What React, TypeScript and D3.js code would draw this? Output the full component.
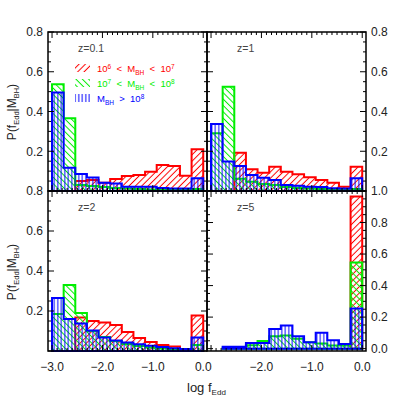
import React from 'react';
import * as d3 from 'd3';

// log f_Edd histogram: 13 equal bins between -3 and 0
const BIN_MIN = -3.0;
const BIN_MAX = 0.0;
const N_BINS = 13;

// z = 0.1  (red: 1e6-1e7, green: 1e7-1e8, blue: >1e8)
const z01Red = [0, 0, 0.05, 0.055, 0.042, 0.06, 0.075, 0.08, 0.097, 0.131, 0.126, 0.077, 0.21];
const z01Green = [0.537, 0.366, 0.03, 0.025, 0.02, 0.015, 0.012, 0.01, 0.008, 0.008, 0.006, 0.005, 0.01];
const z01Blue = [0.495, 0.117, 0.085, 0.068, 0.042, 0.038, 0.022, 0.022, 0.022, 0.015, 0.013, 0.013, 0.064];
// z = 1
const z1Red = [0, 0, 0.193, 0.109, 0.092, 0.122, 0.097, 0.084, 0.069, 0.055, 0.042, 0.022, 0.122];
const z1Green = [0.29, 0.525, 0.062, 0.047, 0.035, 0.03, 0.02, 0.015, 0.012, 0.01, 0.008, 0.005, 0.01];
const z1Blue = [0.337, 0.149, 0.126, 0.08, 0.067, 0.055, 0.03, 0.026, 0.022, 0.02, 0.014, 0.012, 0.064];
// z = 2
const z2Red = [0, 0, 0.167, 0.15, 0.142, 0.13, 0.095, 0.065, 0.045, 0.03, 0.022, 0.01, 0.178];
const z2Green = [0.185, 0.33, 0.19, 0.1, 0.07, 0.05, 0.035, 0.025, 0.018, 0.012, 0.008, 0.005, 0.03];
const z2Blue = [0.265, 0.16, 0.137, 0.103, 0.067, 0.052, 0.043, 0.034, 0.026, 0.02, 0.014, 0.01, 0.067];
// z = 5
const z5Red = [0, 0, 0, 0, 0, 0, 0, 0, 0, 0, 0, 0, 0.965];
const z5Green = [0, 0.005, 0.008, 0.022, 0.048, 0.078, 0.084, 0.062, 0.04, 0.032, 0.02, 0.02, 0.546];
const z5Blue = [0, 0.012, 0.012, 0.035, 0.035, 0.125, 0.146, 0.078, 0.04, 0.1, 0.053, 0.03, 0.255];

const xTickValues = [-3, -2, -1, 0];
const xTickLabels = ['\u22123.0', '\u22122.0', '\u22121.0', '0.0'];

const COLORS = ['#ff0000', '#00ee00', '#0000ff'];
const HATCH = ['hRed', 'hGreen', 'hBlue'];
const FONT = 'Liberation Sans, Arial, sans-serif';

const L = 48, M = 207, R = 366;
const T = 32, MY = 191, B = 351;

const edges = d3.range(N_BINS + 1).map(i => BIN_MIN + (i * (BIN_MAX - BIN_MIN)) / N_BINS);

const panels = [
  { label: 'z=0.1', series: [z01Red, z01Green, z01Blue], x0: L, x1: M, y0: T, y1: MY, yDom: [0, 0.8], yLabels: [0.2, 0.4, 0.6, 0.8], side: 'left', xLabels: [] },
  { label: 'z=1', series: [z1Red, z1Green, z1Blue], x0: M, x1: R, y0: T, y1: MY, yDom: [0, 0.8], yLabels: [0.2, 0.4, 0.6, 0.8], side: 'right', xLabels: [] },
  { label: 'z=2', series: [z2Red, z2Green, z2Blue], x0: L, x1: M, y0: MY, y1: B, yDom: [0, 0.8], yLabels: [0.2, 0.4, 0.6, 0.8], side: 'left', xLabels: [0, 1, 2, 3] },
  { label: 'z=5', series: [z5Red, z5Green, z5Blue], x0: M, x1: R, y0: MY, y1: B, yDom: [-0.015, 1.0], yLabels: [0, 0.2, 0.4, 0.6, 0.8, 1.0], side: 'right', xLabels: [1, 2, 3] },
];

function histPath(vals: number[], x: any, y: any) {
  const idx = vals.map((v, i) => (v > 0 ? i : -1)).filter(i => i >= 0);
  if (!idx.length) return '';
  const first = idx[0], last = idx[idx.length - 1];
  const base = y(0);
  let d = `M${x(edges[first])},${base}`;
  for (let i = first; i <= last; i++) {
    d += `L${x(edges[i])},${y(vals[i])}L${x(edges[i + 1])},${y(vals[i])}`;
  }
  d += `L${x(edges[last + 1])},${base}Z`;
  return d;
}

const Panel = ({ p }: { p: any }) => {
  const x = d3.scaleLinear().domain([-3.08, 0.075]).range([p.x0, p.x1]);
  const y = d3.scaleLinear().domain(p.yDom).range([p.y1, p.y0]);
  const xMinor = d3.range(-30, 1).map(i => i / 10);
  const yMinor = d3.range(0, Math.round(p.yDom[1] / 0.05) + 1).map(i => i * 0.05);
  return (
    <g>
      {p.series.map((vals: number[], k: number) => {
        const d = histPath(vals, x, y);
        return (
          <g key={k}>
            <path d={d} fill={`url(#${HATCH[k]})`} stroke="none" />
            <path d={d} fill="none" stroke={COLORS[k]} strokeWidth={2} />
          </g>
        );
      })}
      <rect x={p.x0} y={p.y0} width={p.x1 - p.x0} height={p.y1 - p.y0} fill="none" stroke="#000" strokeWidth={1.5} />
      {xMinor.map((v, i) => {
        const len = i % 10 === 0 ? 6 : 3;
        return (
          <g key={'xt' + i} stroke="#000" strokeWidth={1}>
            <line x1={x(v)} x2={x(v)} y1={p.y1} y2={p.y1 - len} />
            <line x1={x(v)} x2={x(v)} y1={p.y0} y2={p.y0 + len} />
          </g>
        );
      })}
      {yMinor.map((v, i) => {
        const len = i % 4 === 0 ? 6 : 3;
        return (
          <g key={'yt' + i} stroke="#000" strokeWidth={1}>
            <line x1={p.x0} x2={p.x0 + len} y1={y(v)} y2={y(v)} />
            <line x1={p.x1} x2={p.x1 - len} y1={y(v)} y2={y(v)} />
          </g>
        );
      })}
      {p.yLabels.map((v: number) => (
        <text key={'yl' + v} x={p.side === 'left' ? p.x0 - 5 : p.x1 + 5} y={y(v)} dy="0.36em"
          textAnchor={p.side === 'left' ? 'end' : 'start'} fontSize={12} fill="#222" fontFamily={FONT}>
          {v.toFixed(1)}
        </text>
      ))}
      {p.xLabels.map((i: number) => (
        <text key={'xl' + i} x={x(xTickValues[i])} y={p.y1 + 20} textAnchor="middle" fontSize={12} fill="#222" fontFamily={FONT}>
          {xTickLabels[i]}
        </text>
      ))}
      <text x={p.x0 + 30} y={p.y0 + 20} fontSize={10.5} fill="#444" fontFamily={FONT}>{p.label}</text>
    </g>
  );
};

const legendRows = [
  { lo: '6', hi: '7', kind: 'range' },
  { lo: '7', hi: '8', kind: 'range' },
  { lo: '8', hi: '', kind: 'gt' },
];

const App = () => {
  const sp = '\u00a0\u00a0';
  return (
    <svg width={399} height={399} style={{ position: 'absolute', left: 0, top: 0, background: '#fff' }}>
      <defs>
        <pattern id="hRed" patternUnits="userSpaceOnUse" width={4.5} height={4.5} patternTransform="rotate(45)">
          <line x1={2.25} y1={0} x2={2.25} y2={4.5} stroke="#ff0000" strokeWidth={1} />
        </pattern>
        <pattern id="hGreen" patternUnits="userSpaceOnUse" width={4.5} height={4.5} patternTransform="rotate(-45)">
          <line x1={2.25} y1={0} x2={2.25} y2={4.5} stroke="#00ee00" strokeWidth={1} />
        </pattern>
        <pattern id="hBlue" patternUnits="userSpaceOnUse" width={3.5} height={3.5}>
          <line x1={1.75} y1={0} x2={1.75} y2={3.5} stroke="#0000ff" strokeWidth={1} />
        </pattern>
      </defs>
      {panels.map((p, i) => <Panel key={i} p={p} />)}

      {/* legend */}
      {legendRows.map((r, i) => {
        const yb = 72 + i * 15;
        return (
          <g key={'lg' + i}>
            <rect x={75} y={yb - 8} width={15} height={8} fill={`url(#${HATCH[i]})`} />
            <text x={97} y={yb} fontSize={9.5} fill={COLORS[i]} fontFamily={FONT}>
              {r.kind === 'range' ? (
                <>
                  10<tspan dy={-3.5} fontSize={6.5}>{r.lo}</tspan>
                  <tspan dy={3.5}>{sp + '<' + sp}M</tspan>
                  <tspan dy={2.5} fontSize={6.5}>BH</tspan>
                  <tspan dy={-2.5}>{sp + '<' + sp}10</tspan>
                  <tspan dy={-3.5} fontSize={6.5}>{r.hi}</tspan>
                </>
              ) : (
                <>
                  M<tspan dy={2.5} fontSize={6.5}>BH</tspan>
                  <tspan dy={-2.5}>{sp + '>' + sp}10</tspan>
                  <tspan dy={-3.5} fontSize={6.5}>{r.lo}</tspan>
                </>
              )}
            </text>
          </g>
        );
      })}

      {/* y titles */}
      {[112, 272].map(cy => (
        <text key={'yt' + cy} transform={`translate(16,${cy}) rotate(-90)`} textAnchor="middle" fontSize={12} fill="#222" fontFamily={FONT}>
          P(f<tspan dy={2.5} fontSize={7.5}>Edd</tspan>
          <tspan dy={-2.5}>|M</tspan>
          <tspan dy={2.5} fontSize={7.5}>BH</tspan>
          <tspan dy={-2.5}>)</tspan>
        </text>
      ))}

      {/* x title */}
      <text x={187} y={392} fontSize={13} fill="#222" fontFamily={FONT}>
        log{'\u00a0'}f<tspan dy={3} fontSize={8}>Edd</tspan>
      </text>
    </svg>
  );
};

export default App;
